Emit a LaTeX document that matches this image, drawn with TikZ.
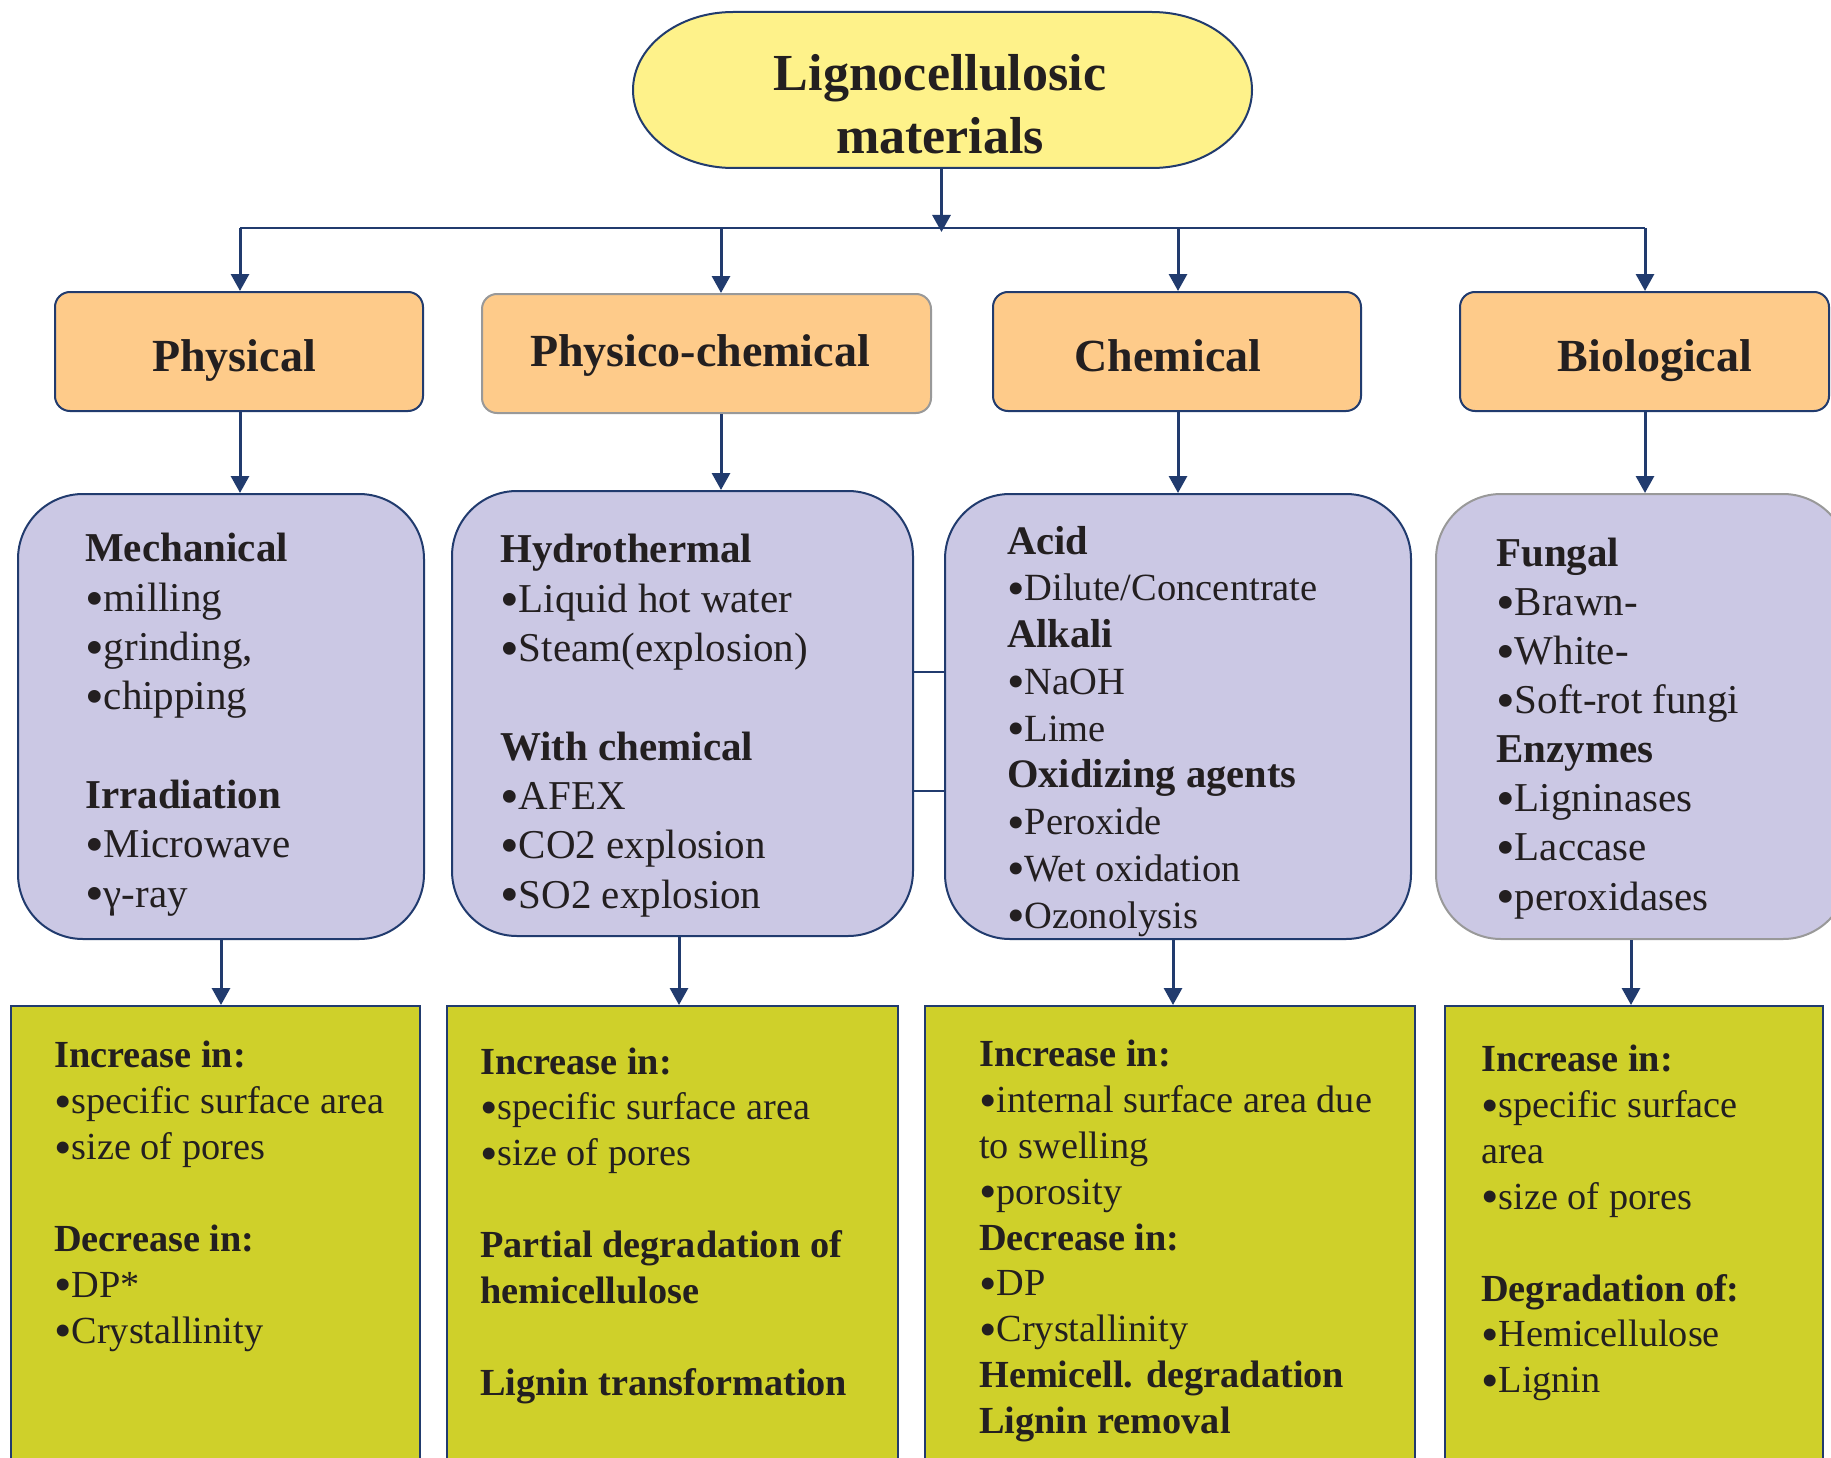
\documentclass[tikz,border=0pt]{standalone}
\usepackage{fontspec}
\usepackage{graphicx}
\setmainfont{Liberation Serif}
\usetikzlibrary{arrows.meta}
\definecolor{navy}{RGB}{33,59,110}
\definecolor{ylw}{RGB}{254,242,138}
\definecolor{org}{RGB}{254,203,138}
\definecolor{prp}{RGB}{203,200,228}
\definecolor{grn}{RGB}{207,208,42}
\definecolor{gry}{RGB}{153,153,153}
\definecolor{ink}{RGB}{35,31,32}
\newcommand\hb[1]{{\fontsize{40.5}{46.75}\selectfont\bfseries #1}}
\newcommand\bu{\raisebox{-0.12em}{\scalebox{1.3}{•}}}
\begin{document}
\begin{tikzpicture}[x=1pt,y=-1pt,
  arr/.style={draw=navy, line width=3pt, -{Triangle[length=17pt,width=18pt]}},
  conn/.style={draw=navy, line width=2.5pt},
  obox/.style={draw=navy, line width=2pt, fill=org, rounded corners=15pt, inner sep=0pt, minimum height=119pt},
  pbox/.style={draw=navy, line width=2pt, fill=prp, rounded corners=65pt, inner sep=0pt, minimum height=445pt},
  gbox/.style={draw=navy, line width=2pt, fill=grn, inner sep=0pt, minimum height=474pt},
  txt/.style={anchor=base west, align=left, inner sep=0pt, text=ink},
  lbl/.style={anchor=base, inner sep=0pt, text=ink, font=\fontsize{46}{55}\selectfont\bfseries},
]
\clip (0,0) rectangle (1831,1458);
\fill[white] (0,0) rectangle (1831,1458);

% title
\draw[draw=navy, line width=2pt, fill=ylw] (733,12) -- (1152,12)
  .. controls (1207,12) and (1252,47) .. (1252,90)
  .. controls (1252,133) and (1207,168) .. (1152,168) -- (733,168)
  .. controls (678,168) and (633,133) .. (633,90)
  .. controls (633,47) and (678,12) .. (733,12) -- cycle;
\node[inner sep=0pt, minimum width=619pt, minimum height=156pt] (title) at (942.5,90) {};
\node[anchor=base, align=center, inner sep=0pt, text=ink, font=\fontsize{52}{63.3}\selectfont\bfseries] (titletext) at (940,154) {Lignocellulosic\\materials};

% orange boxes
\node[obox, minimum width=368pt] (phys) at (239,351.5) {};
\node[obox, draw=gry, minimum width=449pt] (pchem) at (706.5,353.5) {};
\node[obox, minimum width=368pt] (chem) at (1177,351.5) {};
\node[obox, minimum width=369pt] (bio) at (1644.5,351.5) {};
\node[lbl] (physl) at (234,371.7) {Physical};
\node[lbl] (pcheml) at (700,366.7) {Physico-chemical};
\node[lbl] (cheml) at (1168,371.7) {Chemical};
\node[lbl] (biol) at (1655,371.7) {Biological};

% purple boxes
\node[pbox, minimum width=406pt] (p1) at (221,716.5) {};
\node[pbox, minimum width=461pt] (p2) at (682.5,713.5) {};
\node[pbox, minimum width=466pt] (p3) at (1178,716.5) {};
\node[pbox, draw=gry, minimum width=412pt] (p4) at (1642,716.5) {};

% green boxes
\node[gbox, minimum width=409pt] (g1) at (215.5,1243) {};
\node[gbox, minimum width=451pt] (g2) at (672.5,1243) {};
\node[gbox, minimum width=490pt] (g3) at (1170,1243) {};
\node[gbox, minimum width=378pt] (g4) at (1634,1243) {};

% coordinates
\coordinate (bus) at (941.5,228);
\coordinate (bustip) at (941.5,232);
\coordinate (b1) at (240,228);
\coordinate (b2) at (721,228);
\coordinate (b3) at (1178,228);
\coordinate (b4) at (1645,228);
\coordinate (d1) at (221,970);
\coordinate (d2) at (679,970);
\coordinate (d3) at (1173,970);
\coordinate (d4) at (1631,970);
\coordinate (l1) at (930,672);
\coordinate (l2) at (930,791);

% connectors
\draw[conn] (b1) -- (b4);
\draw[arr] (title.south -| bus) -- (bustip);
\draw[arr] (b1) -- (b1 |- phys.north);
\draw[arr] (b2) -- (b2 |- pchem.north);
\draw[arr] (b3) -- (b3 |- chem.north);
\draw[arr] (b4) -- (b4 |- bio.north);
\draw[arr] (b1 |- phys.south) -- (b1 |- p1.north);
\draw[arr] (b2 |- pchem.south) -- (b2 |- p2.north);
\draw[arr] (b3 |- chem.south) -- (b3 |- p3.north);
\draw[arr] (b4 |- bio.south) -- (b4 |- p4.north);
\draw[conn] (p2.east |- l1) -- (p3.west |- l1);
\draw[conn] (p2.east |- l2) -- (p3.west |- l2);
\draw[arr] (d1 |- p1.south) -- (d1 |- g1.north);
\draw[arr] (d2 |- p2.south) -- (d2 |- g2.north);
\draw[arr] (d3 |- p3.south) -- (d3 |- g3.north);
\draw[arr] (d4 |- p4.south) -- (d4 |- g4.north);

% purple texts (anchored at the baseline of the last line)
\node[txt, font=\fontsize{41}{49.3}\selectfont] (t1) at (85,907)
  {\textbf{Mechanical}\\\bu milling\\\bu grinding,\\\bu chipping\\[49.3pt]\textbf{Irradiation}\\\bu Microwave\\\bu γ-ray};
\node[txt, font=\fontsize{41}{49.3}\selectfont] (t2) at (500,908)
  {\textbf{Hydrothermal}\\\bu Liquid hot water\\\bu Steam(explosion)\\[49.3pt]\textbf{With chemical}\\\bu AFEX\\\bu CO2 explosion\\\bu SO2 explosion};
\node[txt, font=\fontsize{38.5}{46.75}\selectfont] (t3) at (1007,928)
  {\hb{Acid}\\\bu Dilute/Concentrate\\\hb{Alkali}\\\bu NaOH\\\bu Lime\\\hb{Oxidizing agents}\\\bu Peroxide\\\bu Wet oxidation\\\bu Ozonolysis};
\node[txt, font=\fontsize{41}{49.1}\selectfont] (t4) at (1496,910)
  {\textbf{Fungal}\\\bu Brawn-\\\bu White-\\\bu Soft-rot fungi\\\textbf{Enzymes}\\\bu Ligninases\\\bu Laccase\\\bu peroxidases};

% green texts (anchored at the baseline of the last line)
\node[txt, font=\fontsize{38.3}{45.85}\selectfont] (u1) at (54,1343)
  {\textbf{Increase in:}\\\bu specific surface area\\\bu size of pores\\[45.85pt]\textbf{Decrease in:}\\\bu DP*\\\bu Crystallinity};
\node[txt, font=\fontsize{38.3}{45.85}\selectfont] (u2) at (480,1395)
  {\textbf{Increase in:}\\\bu specific surface area\\\bu size of pores\\[45.85pt]\textbf{Partial degradation of}\\\textbf{hemicellulose}\\[45.85pt]\textbf{Lignin transformation}};
\node[txt, font=\fontsize{38.3}{45.85}\selectfont] (u3) at (979,1433.5)
  {\textbf{Increase in:}\\\bu internal surface area due\\to swelling\\\bu porosity\\\textbf{Decrease in:}\\\bu DP\\\bu Crystallinity\\\textbf{Hemicell. degradation}\\\textbf{Lignin removal}};
\node[txt, font=\fontsize{38.3}{45.85}\selectfont] (u4) at (1481,1392.7)
  {\textbf{Increase in:}\\\bu specific surface\\area\\\bu size of pores\\[45.85pt]\textbf{Degradation of:}\\\bu Hemicellulose\\\bu Lignin};
\end{tikzpicture}
\end{document}
